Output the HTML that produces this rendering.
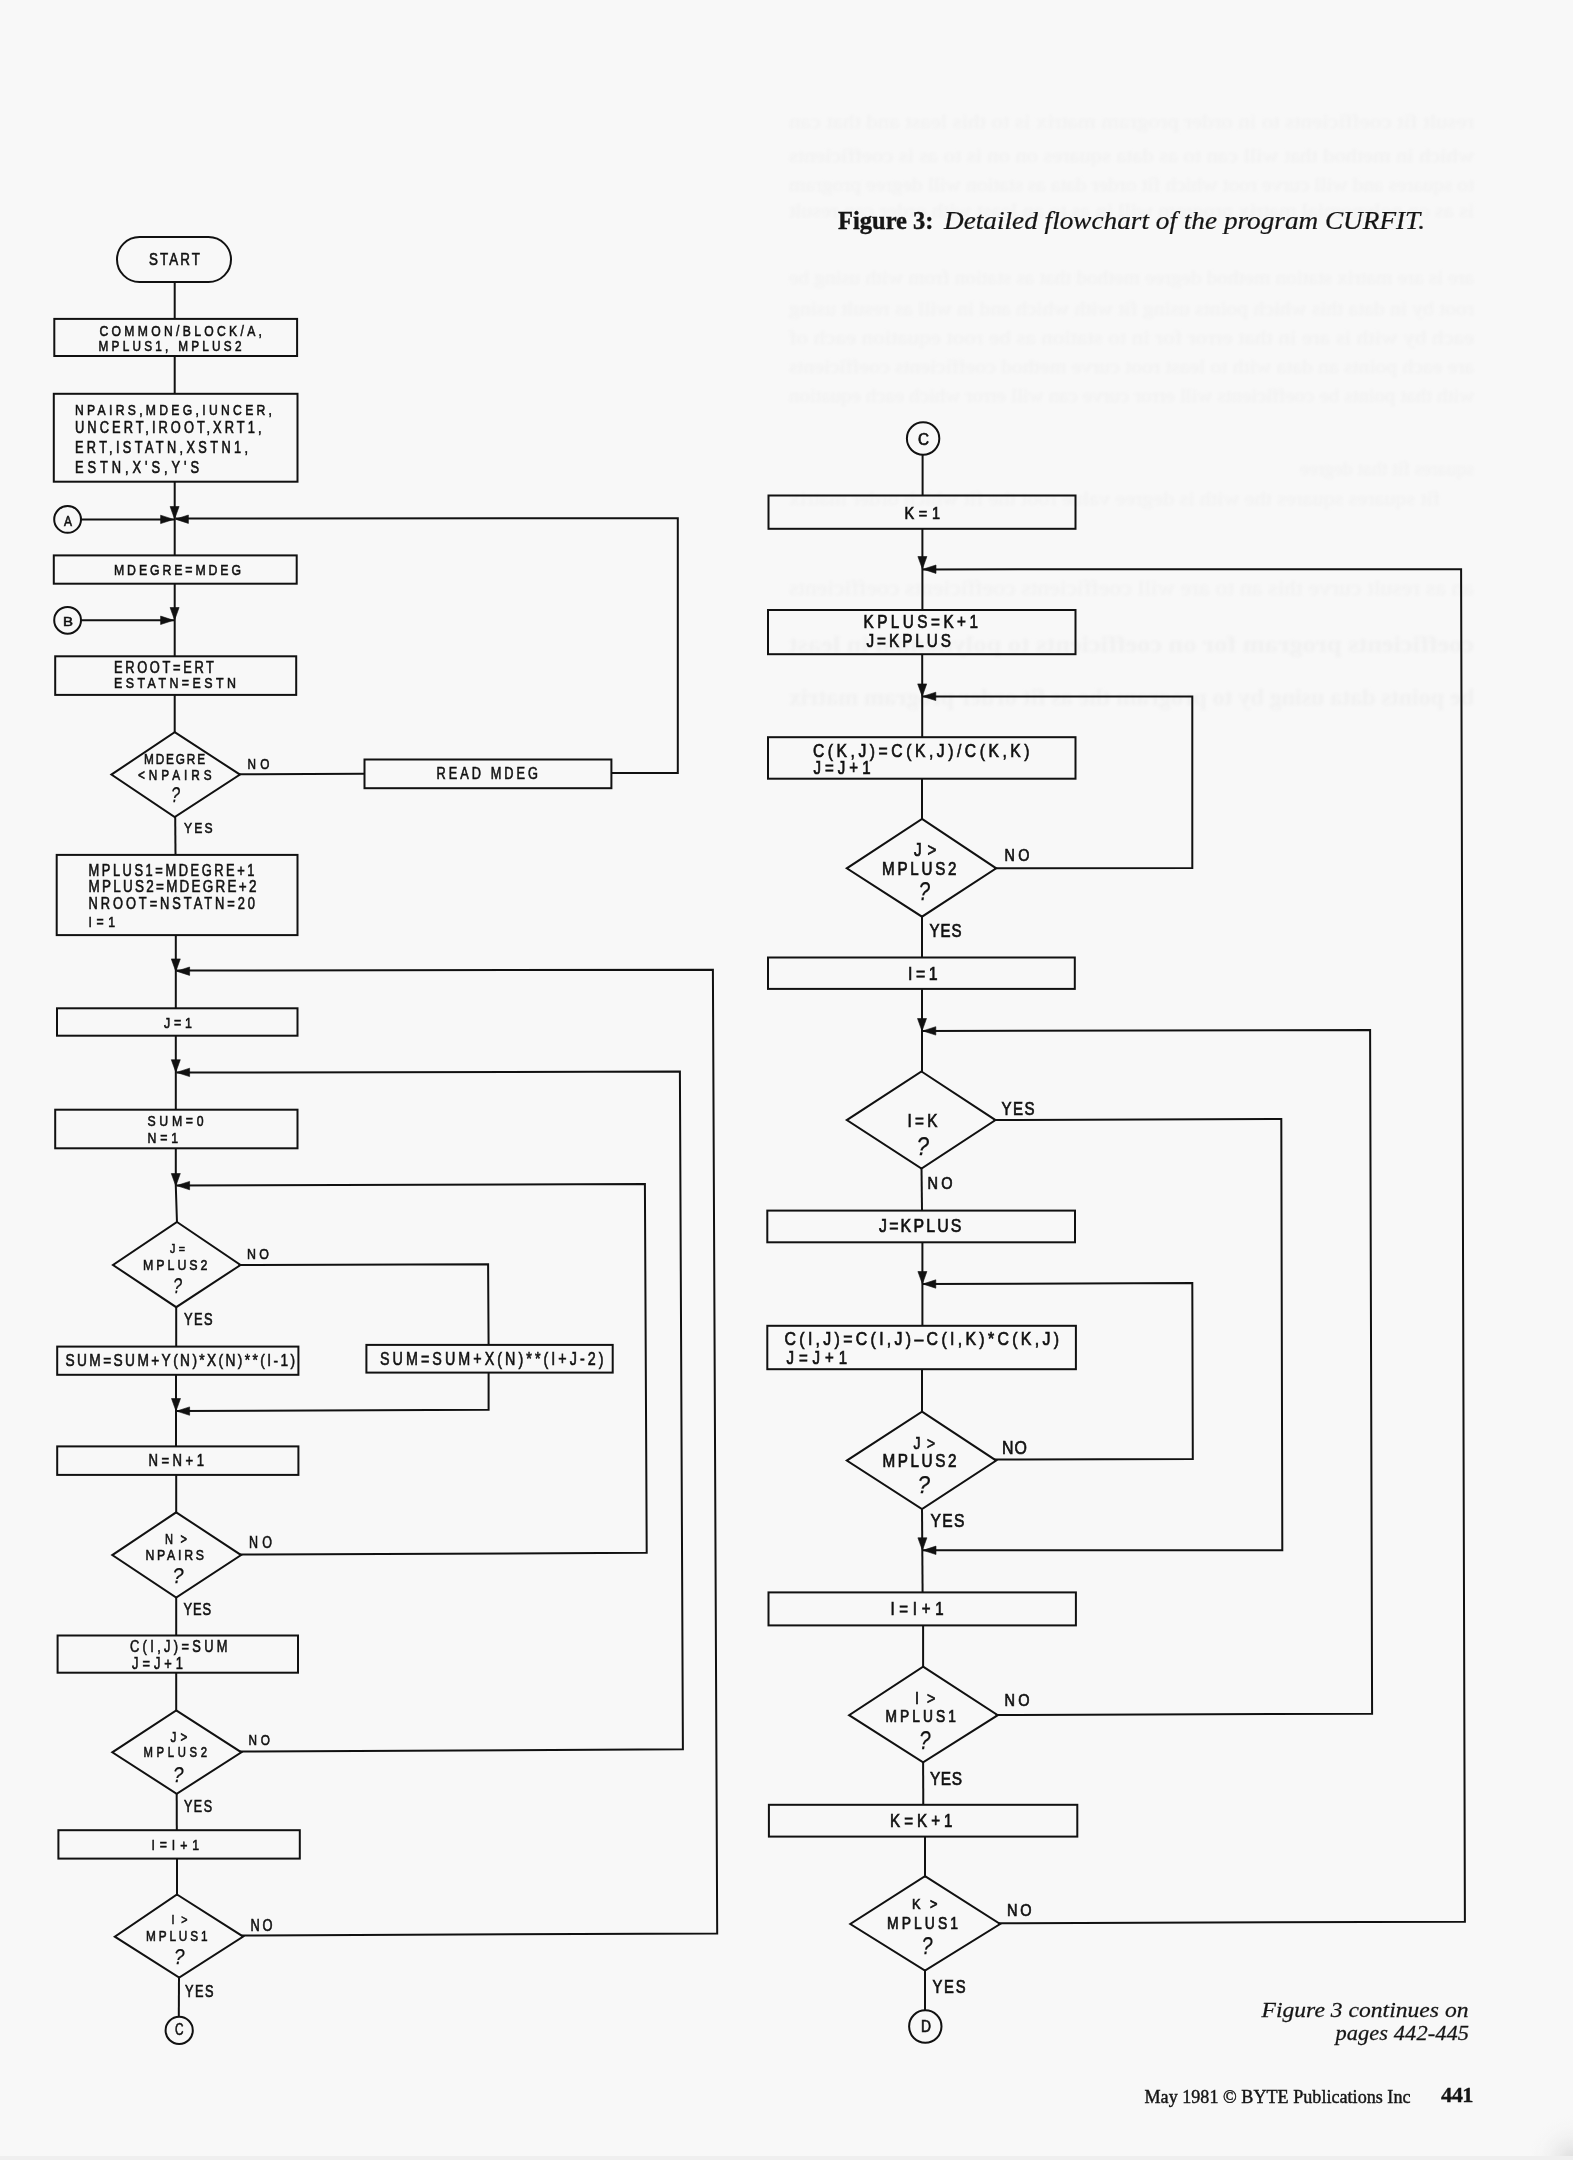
<!DOCTYPE html>
<html><head><meta charset="utf-8"><title>Figure 3: Detailed flowchart of the program CURFIT</title>
<style>
html,body{margin:0;padding:0;background:#f8f8f8;width:1573px;height:2160px;overflow:hidden}
svg{position:absolute;left:0;top:0;will-change:transform}
.s path,.s rect,.s circle{fill:none;stroke:#111;stroke-width:2;stroke-linejoin:miter}
.s path.f{fill:#111;stroke:#111;stroke-width:0.6}
.t text{font-family:"Liberation Sans",sans-serif;fill:#111;stroke:#111;stroke-width:0.6}
.t text.r{stroke-width:0.7}
.t text.q{font-style:italic;stroke-width:0.25}
.st text{font-family:"Liberation Serif",serif;fill:#f1f1f1}
.t text.cap{font-family:"Liberation Serif",serif;fill:#151515;stroke:none}
</style></head><body>
<svg width="1573" height="2160" viewBox="0 0 1573 2160">
<defs><radialGradient id="cs" cx="1573" cy="2160" r="45" gradientUnits="userSpaceOnUse"><stop offset="0" stop-color="#c8c8c8" stop-opacity="0.6"/><stop offset="1" stop-color="#f8f8f8" stop-opacity="0"/></radialGradient><filter id="bl" x="-5%" y="-50%" width="110%" height="200%"><feGaussianBlur stdDeviation="1.6"/></filter></defs>
<g class="st" filter="url(#bl)" transform="translate(1573,0) scale(-1,1)">
<text x="99" y="128.3" font-size="19" textLength="685" lengthAdjust="spacingAndGlyphs">result fit coefficients to in order program matrix is to this least and that can</text>
<text x="99" y="162.3" font-size="19" textLength="685" lengthAdjust="spacingAndGlyphs">which in method that will can to as data squares on on is to as is coefficients</text>
<text x="99" y="191.3" font-size="19" textLength="685" lengthAdjust="spacingAndGlyphs">to squares and will curve root which fit order data as station will degree program</text>
<text x="99" y="217.3" font-size="19" textLength="685" lengthAdjust="spacingAndGlyphs">is as on polynomial matrix program will in as to an least with order can result</text>
<text x="99" y="284.3" font-size="19" textLength="685" lengthAdjust="spacingAndGlyphs">are is are matrix station method degree method that as station from with using be</text>
<text x="99" y="315.3" font-size="19" textLength="685" lengthAdjust="spacingAndGlyphs">root by in data this which points using fit with which and in will as result using</text>
<text x="99" y="344.3" font-size="19" textLength="685" lengthAdjust="spacingAndGlyphs">each by with is are in that error for in to station as be root equation each of</text>
<text x="99" y="373.3" font-size="19" textLength="685" lengthAdjust="spacingAndGlyphs">are each points an data with to least root curve method coefficients coefficients</text>
<text x="99" y="402.3" font-size="19" textLength="685" lengthAdjust="spacingAndGlyphs">with that points be coefficients will error curve can will error which each equation</text>
<text x="99" y="475.3" font-size="19" textLength="174" lengthAdjust="spacingAndGlyphs">squares fit that degree</text>
<text x="133" y="505.3" font-size="19" textLength="651" lengthAdjust="spacingAndGlyphs">fit squares squares the with is degree value root the fit which order matrix</text>
<text x="99" y="594.6" font-size="20" textLength="685" lengthAdjust="spacingAndGlyphs">an as result curve this an to are will coefficients coefficients coefficients</text>
<text x="99" y="651.9" font-size="24" textLength="685" lengthAdjust="spacingAndGlyphs" font-weight="bold">coefficients program for on coefficients to polynomial in least</text>
<text x="99" y="704.9" font-size="24" textLength="685" lengthAdjust="spacingAndGlyphs" font-weight="bold">be points data using by to program the as fit order program matrix</text>
</g>
<rect x="1500" y="2090" width="73" height="70" fill="url(#cs)"/>
<rect x="0" y="2156" width="1573" height="4" fill="#efefef"/>
<g class="s">
<rect x="117" y="237" width="114" height="45" rx="22.5" ry="22.5"/>
<path d="M174.7 282.0 L174.7 319.0"/>
<rect x="54.3" y="318.9" width="242.8" height="37.1"/>
<path d="M174.7 356.0 L174.7 394.0"/>
<rect x="53.8" y="393.8" width="243.7" height="87.9"/>
<path d="M174.7 482.0 L174.7 555.0"/>
<circle cx="67.6" cy="519.4" r="13.4"/>
<path d="M81.0 519.4 L174.7 519.4"/>
<path class="f" d="M173.6 519.4 L160.6 515.2 L160.6 523.6 Z"/>
<path class="f" d="M174.6 519.0 L170.1 506.5 L179.1 506.5 Z"/>
<path d="M175.5 518.6 L677.8 518.2 L677.8 773.0 L611.5 773.0"/>
<path class="f" d="M175.4 519.2 L188.4 515.0 L188.4 523.4 Z"/>
<rect x="53.8" y="555.4" width="242.9" height="28.3"/>
<path d="M174.7 584.0 L174.7 656.0"/>
<circle cx="67.6" cy="620.3" r="13.4"/>
<path d="M81.0 620.3 L174.7 620.3"/>
<path class="f" d="M173.6 620.3 L160.6 616.1 L160.6 624.5 Z"/>
<path class="f" d="M174.6 620.0 L170.1 607.5 L179.1 607.5 Z"/>
<rect x="55.2" y="656.3" width="241.0" height="38.6"/>
<path d="M174.7 695.0 L174.7 733.0"/>
<path d="M174.7 732.2 L240.0 774.6 L174.7 817.0 L111.4 774.6 Z"/>
<path d="M238.0 774.2 L364.5 773.8"/>
<rect x="364.5" y="759.5" width="246.9" height="28.7"/>
<path d="M175.2 816.0 L175.5 855.0"/>
<rect x="56.7" y="854.9" width="240.8" height="80.2"/>
<path d="M175.8 935.0 L175.8 1008.0"/>
<path d="M176.5 970.6 L712.9 969.8 L717.2 1933.4 L241.5 1935.6"/>
<path class="f" d="M175.8 971.4 L171.3 958.9 L180.3 958.9 Z"/>
<path class="f" d="M176.6 971.2 L189.6 967.0 L189.6 975.4 Z"/>
<rect x="57.0" y="1008.3" width="240.5" height="27.4"/>
<path d="M175.8 1036.0 L175.8 1109.5"/>
<path d="M176.5 1072.6 L679.9 1071.6 L682.9 1749.2 L240.0 1751.6"/>
<path class="f" d="M175.8 1072.2 L171.3 1059.7 L180.3 1059.7 Z"/>
<path class="f" d="M176.6 1072.4 L189.6 1068.2 L189.6 1076.6 Z"/>
<rect x="55.2" y="1109.7" width="242.3" height="38.6"/>
<path d="M175.8 1148.5 L175.8 1186.0 L177.0 1223.0"/>
<path d="M176.5 1185.6 L644.9 1184.1 L646.7 1552.8 L239.5 1554.6"/>
<path class="f" d="M175.8 1186.0 L171.3 1173.5 L180.3 1173.5 Z"/>
<path class="f" d="M176.6 1185.6 L189.6 1181.4 L189.6 1189.8 Z"/>
<path d="M177.0 1222.0 L240.5 1265.0 L176.2 1307.2 L113.0 1265.0 Z"/>
<path d="M238.5 1265.0 L488.1 1264.2 L488.6 1345.0"/>
<path d="M488.6 1373.0 L488.6 1409.8 L176.5 1411.1"/>
<path class="f" d="M176.0 1411.0 L171.5 1398.5 L180.5 1398.5 Z"/>
<path class="f" d="M176.6 1411.1 L189.6 1406.9 L189.6 1415.3 Z"/>
<path d="M176.2 1306.0 L176.2 1347.0"/>
<rect x="57.2" y="1346.6" width="241.2" height="28.2"/>
<rect x="366.4" y="1344.9" width="246.3" height="27.7"/>
<path d="M176.0 1375.0 L176.0 1446.5"/>
<rect x="57.2" y="1446.4" width="241.2" height="28.5"/>
<path d="M176.2 1475.0 L176.2 1513.5"/>
<path d="M176.2 1512.3 L241.1 1555.1 L176.2 1597.5 L112.3 1555.1 Z"/>
<path d="M176.2 1596.5 L176.2 1635.5"/>
<rect x="57.6" y="1635.5" width="240.4" height="37.2"/>
<path d="M176.2 1673.0 L176.2 1711.5"/>
<path d="M176.2 1710.4 L241.4 1752.3 L176.7 1793.8 L112.3 1752.3 Z"/>
<path d="M176.7 1793.0 L176.8 1830.0"/>
<rect x="58.4" y="1830.2" width="241.4" height="28.4"/>
<path d="M177.0 1859.0 L177.0 1896.0"/>
<path d="M177.0 1894.5 L243.2 1936.6 L179.2 1977.6 L114.8 1936.6 Z"/>
<path d="M179.0 1976.5 L178.8 2016.5"/>
<circle cx="179.2" cy="2030.4" r="13.6"/>
<circle cx="923.1" cy="438.5" r="16.2"/>
<path d="M922.6 454.5 L922.6 495.5"/>
<rect x="768.5" y="495.5" width="307.0" height="33.3"/>
<path d="M922.4 529.0 L922.4 610.0"/>
<path d="M923.0 569.4 L1461.1 569.2 L1464.9 1921.7 L998.0 1923.2"/>
<path class="f" d="M922.4 569.0 L917.9 556.5 L926.9 556.5 Z"/>
<path class="f" d="M923.0 569.2 L936.0 565.0 L936.0 573.4 Z"/>
<rect x="768.0" y="610.0" width="307.5" height="44.2"/>
<path d="M922.2 654.5 L922.2 737.0"/>
<path d="M923.0 696.6 L1192.3 696.4 L1192.3 868.0 L994.0 868.3"/>
<path class="f" d="M922.2 696.4 L917.7 683.9 L926.7 683.9 Z"/>
<path class="f" d="M922.8 696.4 L935.8 692.2 L935.8 700.6 Z"/>
<rect x="768.0" y="737.2" width="307.5" height="41.5"/>
<path d="M922.0 779.0 L922.0 820.0"/>
<path d="M922.0 818.9 L996.2 868.3 L922.0 916.7 L846.8 868.3 Z"/>
<path d="M922.0 915.5 L922.0 957.5"/>
<rect x="768.0" y="957.5" width="306.8" height="31.4"/>
<path d="M922.0 989.0 L922.0 1072.5"/>
<path d="M923.0 1030.9 L1370.1 1030.0 L1372.1 1713.7 L995.5 1715.0"/>
<path class="f" d="M922.0 1031.0 L917.5 1018.5 L926.5 1018.5 Z"/>
<path class="f" d="M922.8 1030.9 L935.8 1026.7 L935.8 1035.1 Z"/>
<path d="M921.5 1071.5 L995.5 1120.1 L921.5 1168.6 L846.8 1120.1 Z"/>
<path d="M993.5 1120.1 L1281.3 1119.0 L1282.3 1550.2 L923.0 1550.3"/>
<path d="M921.5 1167.5 L922.0 1210.5"/>
<rect x="767.3" y="1210.6" width="307.7" height="31.7"/>
<path d="M922.4 1242.5 L922.4 1326.0"/>
<path d="M923.0 1284.0 L1192.3 1283.0 L1192.8 1458.9 L994.0 1459.6"/>
<path class="f" d="M922.4 1284.0 L917.9 1271.5 L926.9 1271.5 Z"/>
<path class="f" d="M922.8 1284.0 L935.8 1279.8 L935.8 1288.2 Z"/>
<rect x="767.3" y="1325.8" width="308.6" height="43.4"/>
<path d="M922.0 1369.5 L922.0 1413.0"/>
<path d="M922.0 1411.7 L996.2 1460.6 L922.0 1509.0 L846.8 1460.6 Z"/>
<path d="M922.0 1508.0 L922.6 1592.5"/>
<path class="f" d="M922.4 1550.3 L917.9 1537.8 L926.9 1537.8 Z"/>
<path class="f" d="M923.0 1550.3 L936.0 1546.1 L936.0 1554.5 Z"/>
<rect x="768.5" y="1592.4" width="307.4" height="33.0"/>
<path d="M923.1 1625.5 L923.1 1668.0"/>
<path d="M923.1 1666.7 L997.8 1715.2 L923.1 1762.3 L849.1 1715.2 Z"/>
<path d="M923.1 1761.0 L923.3 1805.0"/>
<rect x="768.9" y="1804.8" width="308.4" height="31.8"/>
<path d="M925.0 1837.0 L925.0 1877.5"/>
<path d="M925.0 1876.2 L1000.1 1924.0 L925.0 1970.6 L850.3 1924.0 Z"/>
<path d="M925.0 1969.5 L925.0 2010.5"/>
<circle cx="925.3" cy="2026.5" r="16.2"/>
</g>
<g class="t">
<text transform="scale(0.8,1)" x="186.25" y="264.90" font-size="16.69" textLength="63.75" lengthAdjust="spacing">START</text>
<text transform="scale(0.8,1)" x="124.37" y="335.70" font-size="15.19" textLength="203.13" lengthAdjust="spacing">COMMON/BLOCK/A,</text>
<text transform="scale(0.8,1)" x="123.12" y="351.40" font-size="14.74" textLength="178.75" lengthAdjust="spacing">MPLUS1, MPLUS2</text>
<text transform="scale(0.8,1)" x="93.75" y="414.70" font-size="15.19" textLength="246.25" lengthAdjust="spacing">NPAIRS,MDEG,IUNCER,</text>
<text transform="scale(0.8,1)" x="93.75" y="433.40" font-size="16.09" textLength="233.12" lengthAdjust="spacing">UNCERT,IROOT,XRT1,</text>
<text transform="scale(0.8,1)" x="93.75" y="452.90" font-size="15.94" textLength="216.25" lengthAdjust="spacing">ERT,ISTATN,XSTN1,</text>
<text transform="scale(0.8,1)" x="93.75" y="472.90" font-size="16.09" textLength="155.00" lengthAdjust="spacing">ESTN,X'S,Y'S</text>
<text transform="scale(0.8,1)" x="142.50" y="575.30" font-size="15.34" textLength="158.75" lengthAdjust="spacing">MDEGRE=MDEG</text>
<text transform="scale(0.8,1)" x="142.50" y="672.80" font-size="16.09" textLength="125.00" lengthAdjust="spacing">EROOT=ERT</text>
<text transform="scale(0.8,1)" x="142.50" y="688.40" font-size="15.49" textLength="152.50" lengthAdjust="spacing">ESTATN=ESTN</text>
<text transform="scale(0.8,1)" x="180.00" y="764.40" font-size="14.74" textLength="76.25" lengthAdjust="spacing">MDEGRE</text>
<text transform="scale(0.8,1)" x="172.50" y="779.60" font-size="14.74" textLength="91.88" lengthAdjust="spacing">&lt;NPAIRS</text>
<text class="q" transform="scale(1.0,1)" x="171.00" y="801.80" font-size="21.35" textLength="9.00" lengthAdjust="spacingAndGlyphs">?</text>
<text transform="scale(0.8,1)" x="309.38" y="768.90" font-size="14.74" textLength="27.50" lengthAdjust="spacing">NO</text>
<text transform="scale(0.8,1)" x="230.00" y="833.30" font-size="15.19" textLength="35.62" lengthAdjust="spacing">YES</text>
<text transform="scale(0.8,1)" x="545.62" y="779.00" font-size="15.94" textLength="126.88" lengthAdjust="spacing">READ MDEG</text>
<text transform="scale(0.8,1)" x="110.62" y="875.60" font-size="16.09" textLength="207.50" lengthAdjust="spacing">MPLUS1=MDEGRE+1</text>
<text transform="scale(0.8,1)" x="110.62" y="892.50" font-size="16.84" textLength="210.00" lengthAdjust="spacing">MPLUS2=MDEGRE+2</text>
<text transform="scale(0.8,1)" x="110.62" y="909.40" font-size="16.09" textLength="208.12" lengthAdjust="spacing">NROOT=NSTATN=20</text>
<text transform="scale(0.8,1)" x="110.62" y="926.70" font-size="15.34" textLength="33.12" lengthAdjust="spacing">I=1</text>
<text transform="scale(0.8,1)" x="205.00" y="1028.30" font-size="15.49" textLength="35.00" lengthAdjust="spacing">J=1</text>
<text transform="scale(0.8,1)" x="184.37" y="1126.50" font-size="15.34" textLength="70.00" lengthAdjust="spacing">SUM=0</text>
<text transform="scale(0.8,1)" x="184.37" y="1142.90" font-size="15.34" textLength="38.13" lengthAdjust="spacing">N=1</text>
<text transform="scale(0.8,1)" x="212.50" y="1252.90" font-size="13.38" textLength="18.75" lengthAdjust="spacing">J=</text>
<text transform="scale(0.8,1)" x="178.75" y="1270.30" font-size="15.49" textLength="80.62" lengthAdjust="spacing">MPLUS2</text>
<text class="q" transform="scale(1.0,1)" x="173.00" y="1292.90" font-size="21.35" textLength="9.00" lengthAdjust="spacingAndGlyphs">?</text>
<text transform="scale(0.8,1)" x="308.75" y="1258.70" font-size="15.49" textLength="27.50" lengthAdjust="spacing">NO</text>
<text transform="scale(0.8,1)" x="230.00" y="1325.30" font-size="16.09" textLength="35.62" lengthAdjust="spacing">YES</text>
<text transform="scale(0.8,1)" x="81.87" y="1366.20" font-size="17.14" textLength="286.88" lengthAdjust="spacing">SUM=SUM+Y(N)*X(N)**(I-1)</text>
<text transform="scale(0.8,1)" x="475.00" y="1364.90" font-size="17.89" textLength="279.37" lengthAdjust="spacing">SUM=SUM+X(N)**(I+J-2)</text>
<text transform="scale(0.8,1)" x="185.62" y="1465.80" font-size="16.39" textLength="69.38" lengthAdjust="spacing">N=N+1</text>
<text transform="scale(0.8,1)" x="206.25" y="1544.40" font-size="13.83" textLength="27.50" lengthAdjust="spacing">N&gt;</text>
<text transform="scale(0.8,1)" x="181.88" y="1560.50" font-size="15.34" textLength="73.13" lengthAdjust="spacing">NPAIRS</text>
<text class="q" transform="scale(1.0,1)" x="172.50" y="1583.20" font-size="21.35" textLength="11.00" lengthAdjust="spacingAndGlyphs">?</text>
<text transform="scale(0.8,1)" x="311.25" y="1548.20" font-size="15.64" textLength="28.75" lengthAdjust="spacing">NO</text>
<text transform="scale(0.8,1)" x="229.38" y="1615.30" font-size="16.09" textLength="34.37" lengthAdjust="spacing">YES</text>
<text transform="scale(0.8,1)" x="162.50" y="1651.80" font-size="16.09" textLength="121.88" lengthAdjust="spacing">C(I,J)=SUM</text>
<text transform="scale(0.8,1)" x="165.00" y="1668.70" font-size="16.09" textLength="63.75" lengthAdjust="spacing">J=J+1</text>
<text transform="scale(0.8,1)" x="213.13" y="1741.60" font-size="14.74" textLength="21.25" lengthAdjust="spacing">J&gt;</text>
<text transform="scale(0.8,1)" x="179.37" y="1757.30" font-size="14.14" textLength="79.38" lengthAdjust="spacing">MPLUS2</text>
<text class="q" transform="scale(1.0,1)" x="173.00" y="1781.70" font-size="22.86" textLength="10.50" lengthAdjust="spacingAndGlyphs">?</text>
<text transform="scale(0.8,1)" x="310.62" y="1745.20" font-size="14.74" textLength="26.88" lengthAdjust="spacing">NO</text>
<text transform="scale(0.8,1)" x="230.00" y="1812.50" font-size="15.64" textLength="35.00" lengthAdjust="spacing">YES</text>
<text transform="scale(0.8,1)" x="189.37" y="1849.70" font-size="15.34" textLength="59.38" lengthAdjust="spacing">I=I+1</text>
<text transform="scale(0.8,1)" x="214.37" y="1924.50" font-size="13.38" textLength="20.00" lengthAdjust="spacing">I&gt;</text>
<text transform="scale(0.8,1)" x="182.50" y="1941.40" font-size="14.74" textLength="76.87" lengthAdjust="spacing">MPLUS1</text>
<text class="q" transform="scale(1.0,1)" x="174.00" y="1963.70" font-size="21.50" textLength="10.50" lengthAdjust="spacingAndGlyphs">?</text>
<text transform="scale(0.8,1)" x="313.12" y="1930.70" font-size="16.09" textLength="27.50" lengthAdjust="spacing">NO</text>
<text transform="scale(0.8,1)" x="231.25" y="1996.90" font-size="15.94" textLength="35.63" lengthAdjust="spacing">YES</text>
<text transform="scale(0.8,1)" x="218.75" y="2035.20" font-size="16.09" textLength="10.63" lengthAdjust="spacingAndGlyphs">C</text>
<text transform="scale(0.8,1)" x="80.00" y="525.60" font-size="14.14" textLength="10.00" lengthAdjust="spacingAndGlyphs">A</text>
<text transform="scale(0.8,1)" x="78.75" y="625.60" font-size="13.38" textLength="12.50" lengthAdjust="spacingAndGlyphs">B</text>
<text class="r" transform="scale(0.84,1)" x="1092.86" y="444.60" font-size="16.09" textLength="13.10" lengthAdjust="spacingAndGlyphs">C</text>
<text class="r" transform="scale(0.84,1)" x="1076.79" y="518.60" font-size="17.29" textLength="42.26" lengthAdjust="spacing">K=1</text>
<text class="r" transform="scale(0.84,1)" x="1027.98" y="628.40" font-size="18.20" textLength="136.31" lengthAdjust="spacing">KPLUS=K+1</text>
<text class="r" transform="scale(0.84,1)" x="1031.55" y="646.70" font-size="18.20" textLength="100.60" lengthAdjust="spacing">J=KPLUS</text>
<text class="r" transform="scale(0.84,1)" x="967.86" y="756.60" font-size="18.65" textLength="257.74" lengthAdjust="spacing">C(K,J)=C(K,J)/C(K,K)</text>
<text class="r" transform="scale(0.84,1)" x="968.45" y="774.40" font-size="17.89" textLength="67.86" lengthAdjust="spacing">J=J+1</text>
<text class="r" transform="scale(0.84,1)" x="1088.10" y="856.40" font-size="18.20" textLength="26.79" lengthAdjust="spacing">J&gt;</text>
<text class="r" transform="scale(0.84,1)" x="1050.00" y="875.20" font-size="18.05" textLength="88.69" lengthAdjust="spacing">MPLUS2</text>
<text class="q" transform="scale(1.0,1)" x="918.50" y="900.30" font-size="25.71" textLength="11.50" lengthAdjust="spacingAndGlyphs">?</text>
<text class="r" transform="scale(0.84,1)" x="1195.83" y="861.40" font-size="17.14" textLength="29.76" lengthAdjust="spacing">NO</text>
<text class="r" transform="scale(0.84,1)" x="1106.55" y="937.40" font-size="17.89" textLength="38.10" lengthAdjust="spacing">YES</text>
<text class="r" transform="scale(0.84,1)" x="1080.95" y="980.50" font-size="18.95" textLength="35.12" lengthAdjust="spacing">I=1</text>
<text class="r" transform="scale(0.84,1)" x="1080.36" y="1127.20" font-size="18.20" textLength="35.71" lengthAdjust="spacing">I=K</text>
<text class="q" transform="scale(1.0,1)" x="916.50" y="1154.50" font-size="25.86" textLength="12.50" lengthAdjust="spacingAndGlyphs">?</text>
<text class="r" transform="scale(0.84,1)" x="1192.26" y="1115.10" font-size="17.89" textLength="39.29" lengthAdjust="spacing">YES</text>
<text class="r" transform="scale(0.84,1)" x="1104.17" y="1189.50" font-size="17.29" textLength="29.76" lengthAdjust="spacing">NO</text>
<text class="r" transform="scale(0.84,1)" x="1046.43" y="1231.80" font-size="18.95" textLength="98.21" lengthAdjust="spacing">J=KPLUS</text>
<text class="r" transform="scale(0.84,1)" x="933.93" y="1345.00" font-size="18.95" textLength="326.79" lengthAdjust="spacing">C(I,J)=C(I,J)–C(I,K)*C(K,J)</text>
<text class="r" transform="scale(0.84,1)" x="936.31" y="1364.40" font-size="17.89" textLength="72.02" lengthAdjust="spacing">J=J+1</text>
<text class="r" transform="scale(0.84,1)" x="1087.50" y="1448.70" font-size="16.54" textLength="25.60" lengthAdjust="spacing">J&gt;</text>
<text class="r" transform="scale(0.84,1)" x="1050.60" y="1467.00" font-size="18.20" textLength="88.10" lengthAdjust="spacing">MPLUS2</text>
<text class="q" transform="scale(1.0,1)" x="917.50" y="1492.60" font-size="24.06" textLength="12.50" lengthAdjust="spacingAndGlyphs">?</text>
<text class="r" transform="scale(0.84,1)" x="1192.86" y="1453.70" font-size="18.95" textLength="29.76" lengthAdjust="spacing">NO</text>
<text class="r" transform="scale(0.84,1)" x="1107.74" y="1527.40" font-size="18.65" textLength="40.48" lengthAdjust="spacing">YES</text>
<text class="r" transform="scale(0.84,1)" x="1060.12" y="1615.40" font-size="17.89" textLength="63.10" lengthAdjust="spacing">I=I+1</text>
<text class="r" transform="scale(0.84,1)" x="1089.29" y="1703.70" font-size="17.14" textLength="24.40" lengthAdjust="spacing">I&gt;</text>
<text class="r" transform="scale(0.84,1)" x="1054.17" y="1722.00" font-size="16.39" textLength="83.93" lengthAdjust="spacing">MPLUS1</text>
<text class="q" transform="scale(1.0,1)" x="919.00" y="1748.80" font-size="25.71" textLength="11.50" lengthAdjust="spacingAndGlyphs">?</text>
<text class="r" transform="scale(0.84,1)" x="1195.83" y="1706.50" font-size="17.29" textLength="29.76" lengthAdjust="spacing">NO</text>
<text class="r" transform="scale(0.84,1)" x="1107.14" y="1785.50" font-size="18.35" textLength="38.10" lengthAdjust="spacing">YES</text>
<text class="r" transform="scale(0.84,1)" x="1059.52" y="1826.70" font-size="18.05" textLength="74.40" lengthAdjust="spacing">K=K+1</text>
<text class="r" transform="scale(0.84,1)" x="1085.71" y="1909.10" font-size="15.19" textLength="30.36" lengthAdjust="spacing">K&gt;</text>
<text class="r" transform="scale(0.84,1)" x="1055.95" y="1928.80" font-size="16.54" textLength="84.52" lengthAdjust="spacing">MPLUS1</text>
<text class="q" transform="scale(1.0,1)" x="921.50" y="1954.00" font-size="24.06" textLength="11.00" lengthAdjust="spacingAndGlyphs">?</text>
<text class="r" transform="scale(0.84,1)" x="1198.81" y="1916.00" font-size="17.29" textLength="29.17" lengthAdjust="spacing">NO</text>
<text class="r" transform="scale(0.84,1)" x="1110.12" y="1992.90" font-size="17.59" textLength="39.29" lengthAdjust="spacing">YES</text>
<text class="r" transform="scale(0.84,1)" x="1096.43" y="2032.30" font-size="16.54" textLength="11.90" lengthAdjust="spacingAndGlyphs">D</text>
<text class="cap" transform="scale(0.98,1)" x="855.10" y="229.30" font-size="25.00" textLength="97.45" lengthAdjust="spacing" style="stroke:#151515;stroke-width:0.4" font-weight="bold">Figure 3:</text>
<text class="cap" transform="scale(1.087,1)" x="868.45" y="229.30" font-size="25.00" textLength="442.50" lengthAdjust="spacing" style="stroke:#151515;stroke-width:0.25" font-style="italic">Detailed flowchart of the program CURFIT.</text>
<text class="cap" transform="scale(1.103,1)" x="1143.70" y="2016.70" font-size="21.36" textLength="187.67" lengthAdjust="spacing" style="stroke:#151515;stroke-width:0.25" font-style="italic">Figure 3 continues on</text>
<text class="cap" transform="scale(1.095,1)" x="1219.63" y="2040.10" font-size="20.45" textLength="121.92" lengthAdjust="spacing" style="stroke:#151515;stroke-width:0.25" font-style="italic">pages 442-445</text>
<text class="cap" transform="scale(0.939,1)" x="1218.85" y="2103.30" font-size="19.29" textLength="283.28" lengthAdjust="spacing" style="stroke:#151515;stroke-width:0.45">May 1981 © BYTE Publications Inc</text>
<text class="cap" transform="scale(1.09,1)" x="1322.02" y="2101.80" font-size="20.45" textLength="29.82" lengthAdjust="spacing" style="stroke:#151515;stroke-width:0.4" font-weight="bold">441</text>
</g>
</svg>
</body></html>
